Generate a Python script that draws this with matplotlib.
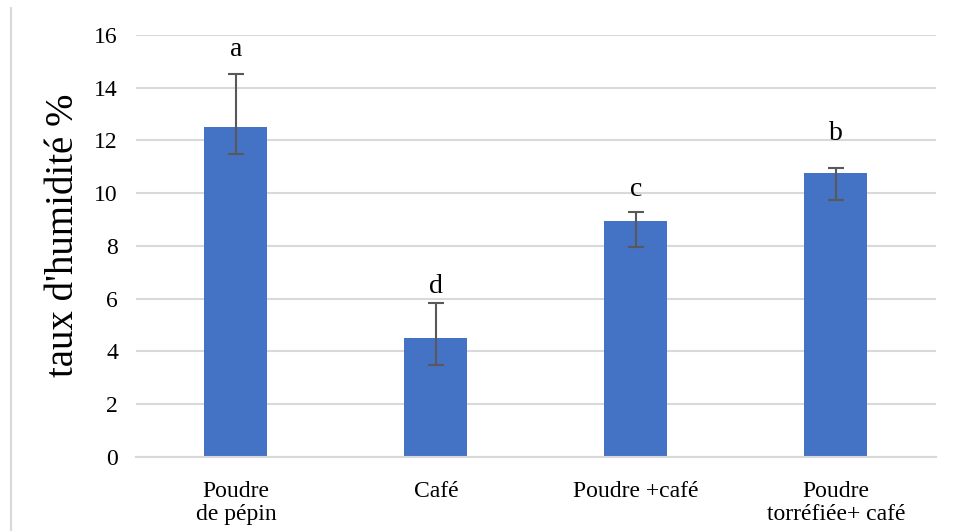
import matplotlib
matplotlib.use("Agg")
import matplotlib.pyplot as plt
from matplotlib.lines import Line2D

categories = ["Poudre\nde pépin", "Café", "Poudre +café", "Poudre\ntorréfiée+ café"]
humidity = [12.5, 4.5, 8.95, 10.75]
err_low = [1.0, 1.0, 0.97, 1.02]
err_high = [2.02, 1.33, 0.33, 0.22]
letters = ["a", "d", "c", "b"]
letter_y = [15.45, 6.45, 10.15, 12.25]
yticks = [0, 2, 4, 6, 8, 10, 12, 14, 16]

plt.rcParams["font.family"] = ["Liberation Serif", "DejaVu Serif"]

fig = plt.figure(figsize=(9.55, 5.31), dpi=100)
ax = fig.add_axes([0.1424, 0.1394, 0.8377, 0.7947])

x = list(range(len(categories)))
ax.bar(x, humidity, width=0.315, color="#4472c4", zorder=2)
ax.errorbar(x, humidity, yerr=[err_low, err_high], fmt="none",
            ecolor="#595959", elinewidth=1.5, capsize=6, capthick=1.5, zorder=3)

for xi, lab, ly in zip(x, letters, letter_y):
    ax.text(xi, ly, lab, ha="center", va="center", fontsize=20, color="black")

ax.set_xlim(-0.5, len(categories) - 0.5)
ax.set_ylim(0, 16)
ax.set_yticks(yticks)
ax.set_yticklabels([str(t) for t in yticks], fontsize=17)
ax.set_xticks(x)
ax.set_xticklabels(categories, fontsize=17, linespacing=1.15)
ax.tick_params(axis="both", length=0)
ax.tick_params(axis="y", pad=13)
ax.tick_params(axis="x", pad=17)

ax.grid(axis="y", color="#d9d9d9", linewidth=1.5, zorder=0)
ax.set_axisbelow(True)
for side in ["top", "right", "left"]:
    ax.spines[side].set_visible(False)
ax.spines["bottom"].set_color("#d9d9d9")
ax.spines["bottom"].set_linewidth(1.5)

ax.set_ylabel("taux d'humidité %", fontsize=28)
ax.yaxis.set_label_coords(-0.068, 0.526)

# light frame edge on the left side of the figure
fig.add_artist(Line2D([0.0115, 0.0115], [0.0, 0.985], color="#d9d9d9",
                      linewidth=1.5, transform=fig.transFigure))

fig.savefig("out.png", dpi=100)
